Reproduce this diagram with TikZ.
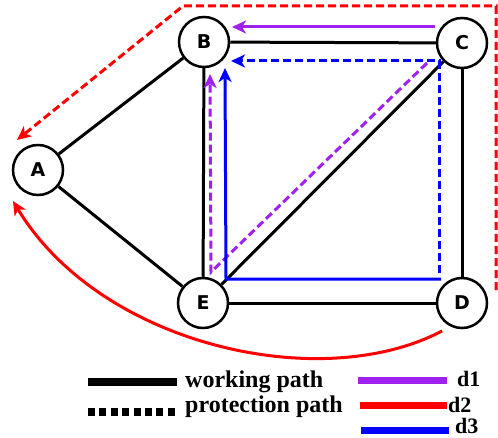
\documentclass[tikz,border=0pt]{standalone}
\usepackage{fontspec}
\setmainfont{Liberation Serif}
\newfontfamily\labelfont{DejaVu Sans}
\usetikzlibrary{arrows.meta}
\definecolor{dpurple}{RGB}{160,32,240}
\definecolor{dred}{RGB}{255,0,0}
\definecolor{dblue}{RGB}{0,0,255}
\begin{document}
\begin{tikzpicture}[x=1bp,y=-1bp,
 nd/.style={circle,draw=black,line width=2.5bp,fill=white,minimum size=50bp,inner sep=0pt,font=\labelfont\bfseries\fontsize{19bp}{19bp}\selectfont},
 edge/.style={line width=3bp,black},
 pth/.style={line width=3bp},
 dsh/.style={dash pattern=on 8bp off 4bp},
 tip/.style={-{Stealth[length=14bp,width=13bp,inset=4bp]}},
 lgline/.style={line width=7bp},
 lgtext/.style={anchor=base west,inner sep=0pt,font=\bfseries\fontsize{24bp}{24bp}\selectfont},
 lgd/.style={anchor=base west,inner sep=0pt,font=\bfseries\fontsize{22bp}{22bp}\selectfont},
 ]
\useasboundingbox (0,0) rectangle (498,438);
% nodes
\node[nd] (A) at (38,170) {A};
\node[nd] (B) at (204,42) {B};
\node[nd] (C) at (462,43) {C};
\node[nd] (D) at (462,303) {D};
\node[nd] (E) at (203,303) {E};
% working edges
\draw[edge] (A) -- (B);
\draw[edge] (A) -- (E);
\draw[edge] (B) -- (C);
\draw[edge] (B) -- (E);
\draw[edge] (C) -- (D);
\draw[edge] (E) -- (D);
\draw[edge] (E) -- (C);
% path coordinates
\coordinate (p1a) at (435,27);
\coordinate (p1b) at (232,27);
\coordinate (q1a) at (427,63);
\coordinate (q1b) at (211,272);
\coordinate (q1c) at (210,74);
\coordinate (p3a) at (441,279);
\coordinate (p3b) at (226,279);
\coordinate (p3c) at (225,68);
\coordinate (q3a) at (439,273);
\coordinate (q3b) at (439,61);
\coordinate (q3c) at (231,61);
\coordinate (q2a) at (496,290);
\coordinate (q2b) at (496,6);
\coordinate (q2c) at (183,6);
\coordinate (q2d) at (17,140);
\coordinate (p2a) at (442,331);
\coordinate (p2b) at (13,201);
% d1
\draw[pth,dpurple,tip] (p1a) -- (p1b);
\draw[pth,dpurple,dsh,tip] (q1a) -- (q1b) -- (q1c);
% d3
\draw[pth,dblue,tip] (p3a) -- (p3b) -- (p3c);
\draw[pth,dblue,dsh,tip] (q3a) -- (q3b) -- (q3c);
% d2
\draw[pth,dred,dsh,tip] (q2a) -- (q2b) -- (q2c) -- (q2d);
\draw[pth,dred,tip] (p2a) .. controls (320,395) and (100,345) .. (p2b);
% legend
\coordinate (lw1) at (88,382); \coordinate (lw2) at (177,382);
\draw[lgline,line width=8bp] (lw1) -- (lw2);
\node[lgtext] (tw) at (185,387) {working path};
\coordinate (lp1) at (88,412); \coordinate (lp2) at (177,412);
\draw[lgline,line width=8bp,dash pattern=on 7bp off 4.4bp] (lp1) -- (lp2);
\node[lgtext] (tp) at (185,412) {protection path};
\coordinate (l11) at (358,380); \coordinate (l12) at (447,380);
\draw[lgline,dpurple] (l11) -- (l12);
\node[lgd] (t1) at (457,386) {d1};
\coordinate (l21) at (360,405); \coordinate (l22) at (447,405);
\draw[lgline,dred] (l21) -- (l22);
\node[lgd] (t2) at (448,412) {d2};
\coordinate (l31) at (361,430); \coordinate (l32) at (449,430);
\draw[lgline,dblue] (l31) -- (l32);
\node[lgd] (t3) at (455,433) {d3};
\end{tikzpicture}
\end{document}
